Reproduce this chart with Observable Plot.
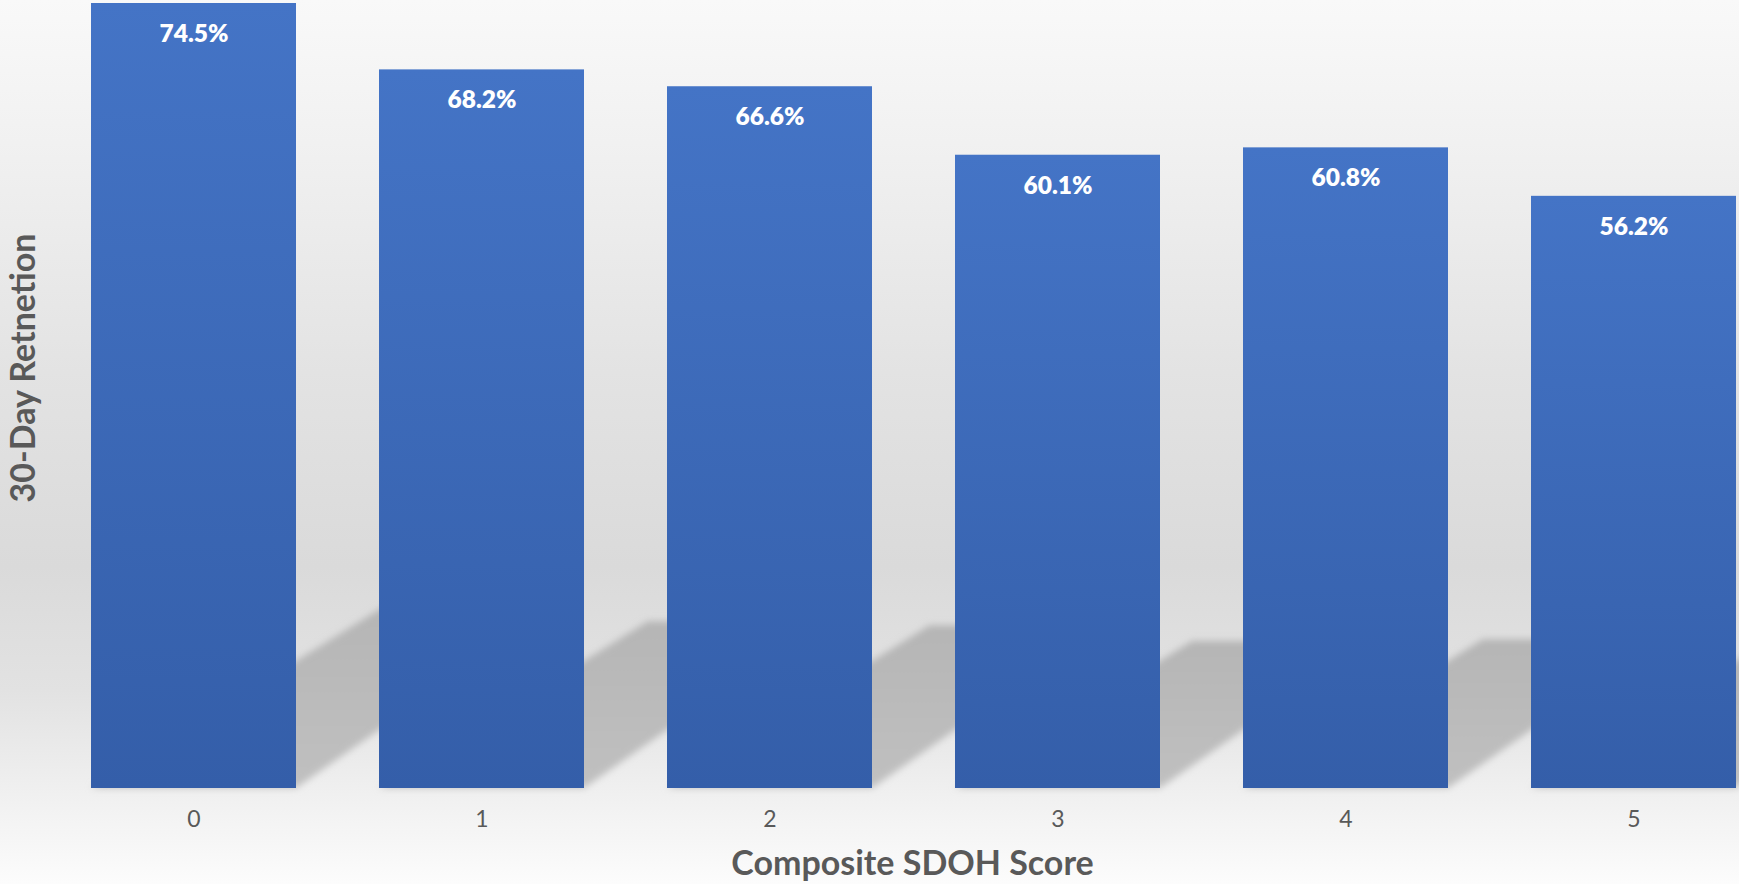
<!DOCTYPE html>
<html>
<head>
<meta charset="utf-8">
<script src="https://cdn.jsdelivr.net/npm/d3@7"></script>
<script src="https://cdn.jsdelivr.net/npm/@observablehq/plot@0.6"></script>
<style>
  html, body { margin: 0; padding: 0; }
  body { width: 1739px; height: 884px; overflow: hidden; background: #f5f5f5; }
</style>
</head>
<body>
<div id="chart"></div>
<script>
// ---- data ----
const scores = ["0", "1", "2", "3", "4", "5"];
const retention = [74.5, 68.2, 66.6, 60.1, 60.8, 56.2];
const xTitle = "Composite SDOH Score";
const yTitle = "30-Day Retnetion";

const data = scores.map((s, i) => ({score: s, value: retention[i]}));

// gradients / filters
const defsMark = () => {
  const defs = d3.create("svg:defs");
  const g = defs.append("linearGradient").attr("id", "barGrad")
    .attr("x1", 0).attr("y1", 0).attr("x2", 0).attr("y2", 1);
  g.append("stop").attr("offset", "0%").attr("stop-color", "#4474c6");
  g.append("stop").attr("offset", "100%").attr("stop-color", "#345ea9");
  const sg = defs.append("linearGradient").attr("id", "shadowGrad")
    .attr("x1", 0).attr("y1", 0).attr("x2", 0).attr("y2", 1);
  sg.append("stop").attr("offset", "0%").attr("stop-color", "#b5b5b5");
  sg.append("stop").attr("offset", "100%").attr("stop-color", "#c0c0c0");
  const f = defs.append("filter").attr("id", "blur")
    .attr("x", "-20%").attr("y", "-20%").attr("width", "140%").attr("height", "140%");
  f.append("feGaussianBlur").attr("stdDeviation", 3.5);
  return defs.node();
};

// perspective cast shadows drawn from the bar scales
const shadowMark = (index, scales) => {
  const x = scales.x, y = scales.y;
  const bw = x.bandwidth ? x.bandwidth() : 0;
  const y0 = y(0);
  const g = d3.create("svg:g").attr("filter", "url(#blur)");
  for (const d of data) {
    const x0 = x(d.score), x1 = x0 + bw;
    const H = y0 - y(d.value);
    const h = 0.232 * H;
    const pts = [
      [x0, y0], [x1, y0],
      [x1 + h / 0.70, y0 - h], [x0 + h / 0.62, y0 - h]
    ];
    g.append("path")
      .attr("d", "M" + pts.map(p => p.join(",")).join("L") + "Z")
      .attr("fill", "url(#shadowGrad)");
  }
  return g.node();
};

const chart = Plot.plot({
  width: 1739,
  height: 884,
  marginLeft: 89,
  marginRight: 0,
  marginTop: 3,
  marginBottom: 96,
  style: {
    fontFamily: "Lato, 'Open Sans', sans-serif",
    color: "#595959",
    background: "linear-gradient(to bottom, #f9f9f9 0%, #f0f0f0 18%, #e3e3e3 42%, #dadada 64%, #e2e2e2 78%, #efefef 89%, #fcfcfc 100%)",
    overflow: "visible"
  },
  x: {domain: scores, paddingInner: 0.287, paddingOuter: 0, axis: null},
  y: {domain: [0, 74.5], axis: null},
  marks: [
    defsMark,
    shadowMark,
    Plot.barY(data, {x: "score", y: "value", fill: "url(#barGrad)"}),
    Plot.text(data, {
      x: "score", y: "value",
      text: d => d.value.toFixed(1) + "%",
      dy: 30.5, fill: "white", fontWeight: 800, fontSize: 24.5
    }),
    Plot.axisX({tickSize: 0, tickPadding: 22, fontSize: 23, label: null}),
    Plot.text([xTitle], {
      frameAnchor: "bottom", text: d => d, dy: 86, dx: -2,
      fontSize: 34, fontWeight: "bold", fill: "#595959"
    }),
    Plot.text([yTitle], {
      frameAnchor: "left", textAnchor: "middle", text: d => d, rotate: -90, dx: -65, dy: -28,
      fontSize: 34, fontWeight: "bold", fill: "#595959"
    })
  ]
});
document.getElementById("chart").appendChild(chart);
</script>
</body>
</html>
